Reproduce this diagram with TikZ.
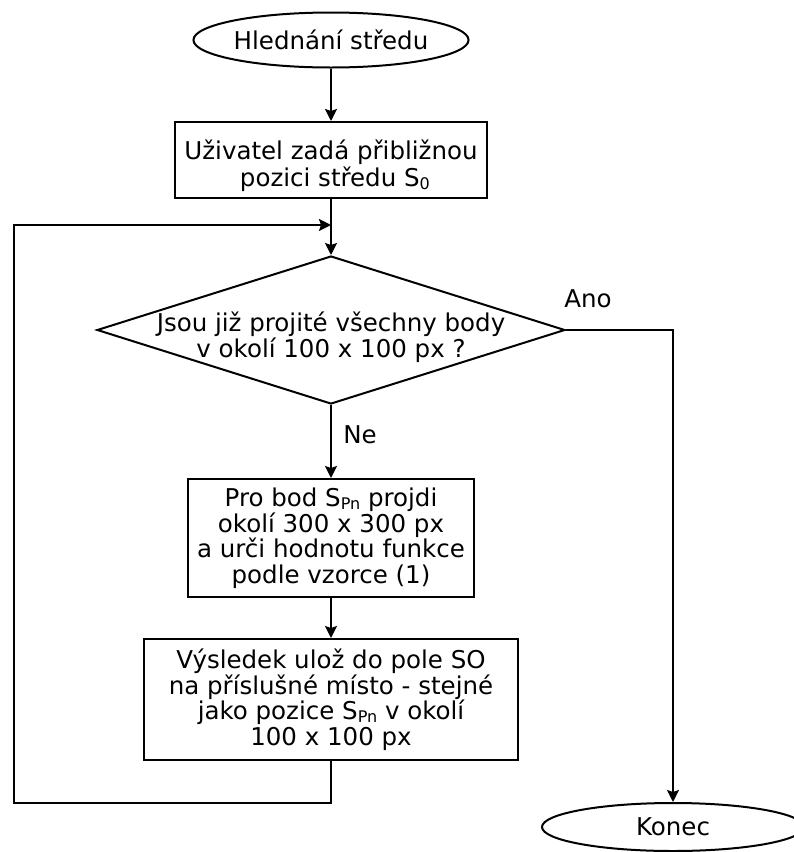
\documentclass[tikz,border=0pt]{standalone}
\usepackage{fontspec}
\setmainfont{DejaVu Sans}
\usetikzlibrary{arrows.meta,shapes.geometric}
\newcommand{\lowidx}[1]{\raisebox{-3pt}{\fontsize{16}{16}\selectfont #1}}
\tikzset{
	base/.style={draw, line width=2pt, font=\fontsize{24.5}{25.5}\selectfont, align=center, inner sep=2pt},
	terminal/.style={base, ellipse, inner sep=0pt},
	process/.style={base, rectangle},
	decision/.style={base, diamond, inner sep=0pt},
	tag/.style={font=\fontsize{24.5}{25.5}\selectfont, align=center, inner sep=0pt},
	link/.style={line width=2pt},
	flow/.style={link, -{Stealth[length=12pt,width=12pt,inset=2pt]}},
}
\begin{document}
\begin{tikzpicture}[x=1pt,y=-1pt]
			%%%%% START %%%%%
			\useasboundingbox (0,0) rectangle (794,852);
			
			\node[terminal, minimum width=267pt, minimum height=55pt] (start) at (331,40) {Hledn\'an\'i st\v{r}edu};
			\node[process, minimum width=312pt, minimum height=76pt] (guess) at (331,160) {};
			\node[tag] (guesstext) at (331,166) {U\v{z}ivatel zad\'a p\v{r}ibli\v{z}nou\\[1.5pt] \ pozici st\v{r}edu S\lowidx{0}};
			
			\node[decision, minimum width=468pt, minimum height=148pt] (check) at (331,330) {};
			\node[tag] (checktext) at (331,337) {Jsou ji\v{z} projit\'e v\v{s}echny body\\v okol\'i 100 x 100 px ?};
			
			\node[process, minimum width=286pt, minimum height=118pt] (scan) at (331,538) {Pro bod S\lowidx{Pn} projdi\\okol\'i 300 x 300 px\\a ur\v{c}i hodnotu funkce\\podle vzorce (1)};
			\node[process, minimum width=374pt, minimum height=121pt] (store) at (331,699.5) {V\'ysledek ulo\v{z} do pole SO\\na p\v{r}\'islu\v{s}n\'e m\'isto - stejn\'e\\jako pozice S\lowidx{Pn} v okol\'i\\100 x 100 px};
			
			\node[terminal, minimum width=262pt, minimum height=48pt] (stop) at (673,827) {Konec};
			
			\node[tag] (yes) at (588,299) {Ano};
			\node[tag] (no) at (360,435) {Ne};
			
			\coordinate (merge) at (331,225);
			\coordinate (back) at (14,803);
			
			\draw[flow] (start) -- (guess);
			\draw[flow] (guess) -- (check);
			\draw[flow] (check) -- (scan);
			\draw[flow] (scan) -- (store);
			\draw[flow] (check.east) -| (stop.north);
			\draw[flow] (store.south) |- (back) |- (merge);
			
			%%%%% END %%%%%
		\end{tikzpicture}
\end{document}
